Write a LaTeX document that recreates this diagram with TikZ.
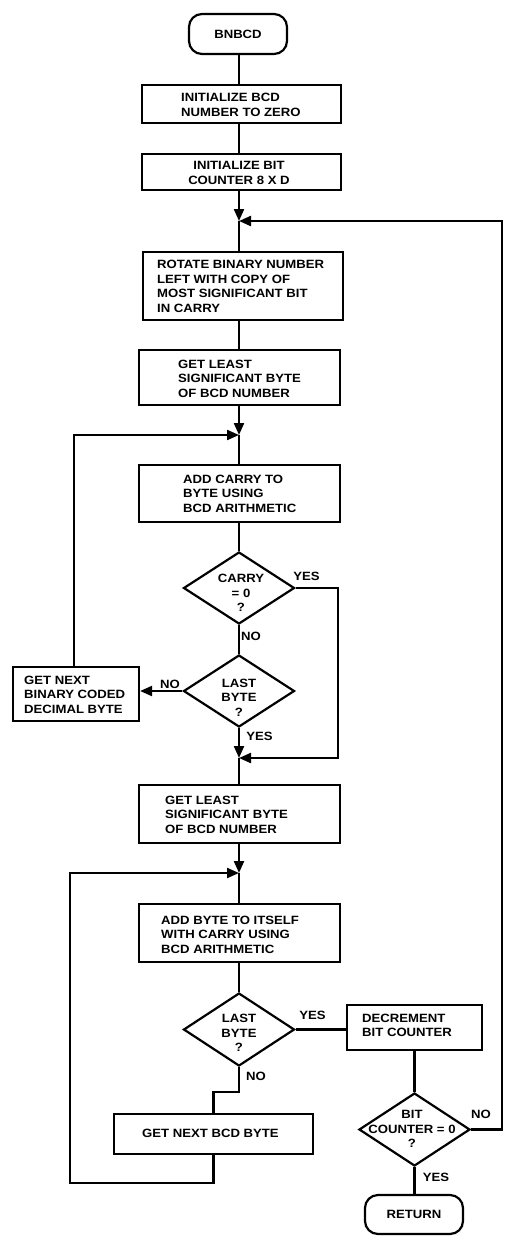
\documentclass[tikz,border=0pt]{standalone}
\usepackage{fontspec}
\newfontfamily\fcfont[FakeStretch=1.095]{Liberation Sans}
\usetikzlibrary{shapes.geometric,arrows.meta}
\tikzset{
  fc/.style={font=\fcfont\bfseries\fontsize{12}{14.5}\selectfont},
  box/.style={draw, line width=2.2pt, rectangle, inner sep=0pt},
  term/.style={draw, line width=2.2pt, rectangle, rounded corners=13pt, inner sep=0pt, fc},
  dia/.style={draw, line width=2.2pt, diamond, inner sep=0pt},
  txt/.style={fc, align=left, inner sep=0pt, anchor=west},
  ctxt/.style={fc, align=center, inner sep=0pt},
  lbl/.style={fc, inner sep=0pt},
  conn/.style={line width=2.2pt},
  arr/.style={line width=2.2pt, -{Triangle[length=12pt,width=10pt]}}
}
\begin{document}
\begin{tikzpicture}[x=1pt,y=-1pt]
\useasboundingbox (0,0) rectangle (525,1255);
% terminals and boxes
\node[term, minimum width=98pt, minimum height=40pt] (bn) at (238,34) {BNBCD};
\node[box, minimum width=199pt, minimum height=38pt] (b1) at (241.5,104) {};
\node[box, minimum width=199pt, minimum height=36pt] (b2) at (241.5,172) {};
\node[box, minimum width=200pt, minimum height=68pt] (b3) at (243,286) {};
\node[box, minimum width=201pt, minimum height=55pt] (b4) at (239.5,377.5) {};
\node[box, minimum width=201pt, minimum height=57pt] (b5) at (239.5,493.5) {};
\node[dia, minimum width=111pt, minimum height=72pt] (d1) at (239,588) {};
\node[dia, minimum width=111pt, minimum height=72pt] (d2) at (239,691) {};
\node[box, minimum width=126pt, minimum height=54pt] (bx) at (76,694) {};
\node[box, minimum width=201pt, minimum height=58pt] (b6) at (239.5,814) {};
\node[box, minimum width=201pt, minimum height=58pt] (b7) at (239.5,933) {};
\node[dia, minimum width=111pt, minimum height=73pt] (d3) at (239,1029.5) {};
\node[box, minimum width=135pt, minimum height=45pt] (dec) at (414.5,1027.5) {};
\node[dia, minimum width=111pt, minimum height=73pt] (d4) at (414.5,1129.5) {};
\node[box, minimum width=199pt, minimum height=40pt] (gn) at (213.5,1134) {};
\node[term, minimum width=98pt, minimum height=39pt] (ret) at (414,1214.5) {RETURN};
% texts
\node[txt] (t1) at (181,105) {INITIALIZE BCD\\NUMBER TO ZERO};
\node[ctxt] (t2) at (239,173) {INITIALIZE BIT\\COUNTER 8 X D};
\node[txt] (t3) at (157,286.5) {ROTATE BINARY NUMBER\\LEFT WITH COPY OF\\MOST SIGNIFICANT BIT\\IN CARRY};
\node[txt] (t4) at (178,378.5) {GET LEAST\\SIGNIFICANT BYTE\\OF BCD NUMBER};
\node[txt] (t5) at (183,493.5) {ADD CARRY TO\\BYTE USING\\BCD ARITHMETIC};
\node[ctxt] (td1) at (241,593) {CARRY\\= 0\\?};
\node[ctxt] (td2) at (239,697.5) {LAST\\BYTE\\?};
\node[txt] (tx) at (24,694.5) {GET NEXT\\BINARY CODED\\DECIMAL BYTE};
\node[txt] (t6) at (165,814.5) {GET LEAST\\SIGNIFICANT BYTE\\OF BCD NUMBER};
\node[txt] (t7) at (161,934.5) {ADD BYTE TO ITSELF\\WITH CARRY USING\\BCD ARITHMETIC};
\node[ctxt] (td3) at (239,1033) {LAST\\BYTE\\?};
\node[txt] (tdec) at (362,1025.5) {DECREMENT\\BIT COUNTER};
\node[ctxt] (td4) at (412,1129) {BIT\\COUNTER = 0\\?};
\node[txt] (tgn) at (142,1133) {GET NEXT BCD BYTE};
% labels
\node[lbl] (l1) at (306.5,576) {YES};
\node[lbl] (l2) at (251,636) {NO};
\node[lbl] (l3) at (170,684) {NO};
\node[lbl] (l4) at (259.5,736) {YES};
\node[lbl] (l5) at (312.5,1015) {YES};
\node[lbl] (l6) at (256,1076) {NO};
\node[lbl] (l7) at (481,1114.5) {NO};
\node[lbl] (l8) at (436,1177.5) {YES};
% junction coordinates
\coordinate (m1) at (239,221);
\coordinate (m2) at (239,435);
\coordinate (m3) at (239,758);
\coordinate (m4) at (239,873);
\coordinate (lx) at (74,435);
\coordinate (ry) at (338,758);
\coordinate (rx) at (502,221);
\coordinate (nb) at (239,1092);
\coordinate (bl) at (70,1183);
% connectors
\draw[conn] (bn.south -| m1) -- (b1.north -| m1);
\draw[conn] (b1.south -| m1) -- (b2.north -| m1);
\draw[arr] (b2.south -| m1) -- (m1);
\draw[conn] (m1) -- (b3.north -| m1);
\draw[conn] (b3.south -| m1) -- (b4.north -| m1);
\draw[arr] (b4.south -| m2) -- (m2);
\draw[conn] (m2) -- (b5.north -| m2);
\draw[arr] (bx.north -| lx) -- (lx) -- (m2);
\draw[conn] (b5.south -| m2) -- (d1.north);
\draw[conn] (d1.south) -- (d2.north);
\draw[arr] (d2.west) -- (bx.east |- d2.west);
\draw[arr] (d1.east) -- (ry |- d1.east) -- (ry) -- (m3);
\draw[arr] (d2.south) -- (m3);
\draw[conn] (m3) -- (b6.north -| m3);
\draw[arr] (b6.south -| m4) -- (m4);
\draw[conn] (m4) -- (b7.north -| m4);
\draw[conn] (b7.south -| m4) -- (d3.north);
\draw[conn] (d3.east) -- (dec.west |- d3.east);
\draw[conn] (dec.south -| d4.north) -- (d4.north);
\draw[arr] (d4.east) -- (rx |- d4.east) -- (rx) -- (m1);
\draw[conn] (d4.south) -- (d4.south |- ret.north);
\draw[conn] (d3.south) -- (nb) -- (nb -| gn.north) -- (gn.north);
\draw[arr] (gn.south) -- (gn.south |- bl) -- (bl) -- (bl |- m4) -- (m4);
\end{tikzpicture}
\end{document}
